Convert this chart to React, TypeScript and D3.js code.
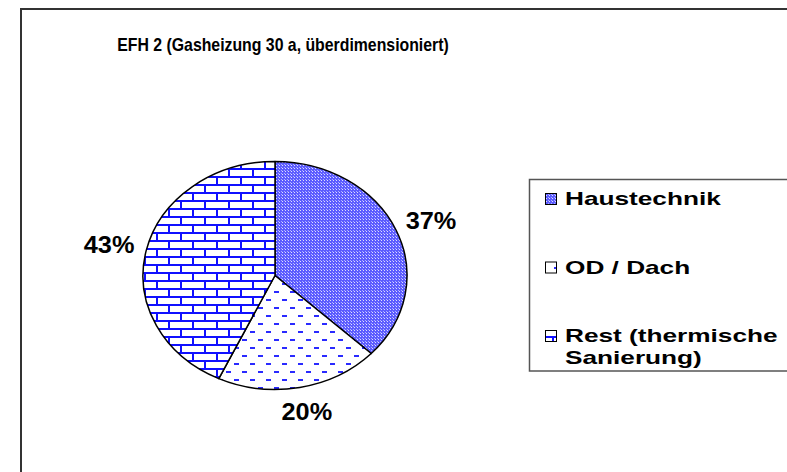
import React from 'react';
import * as d3 from 'd3';

const title = 'EFH 2 (Gasheizung 30 a, überdimensioniert)';
const categories = ['Haustechnik', 'OD / Dach', 'Rest (thermische Sanierung)'];
const shares = [37, 20, 43];
const legendLines = [['Haustechnik'], ['OD / Dach'], ['Rest (thermische', 'Sanierung)']];
const patternIds = ['pat-checker', 'pat-dash', 'pat-brick'];

const W = 787;
const H = 472;
const cx = 275;
const cy = 275.5;
const rx = 132;
const ry = 114;

// elliptical slice path (the original chart is stretched horizontally)
function slicePath(a0: number, a1: number) {
  const x0 = cx + rx * Math.sin(a0);
  const y0 = cy - ry * Math.cos(a0);
  const x1 = cx + rx * Math.sin(a1);
  const y1 = cy - ry * Math.cos(a1);
  const large = a1 - a0 > Math.PI ? 1 : 0;
  return `M${cx},${cy}L${x0},${y0}A${rx},${ry} 0 ${large} 1 ${x1},${y1}Z`;
}

export default function App() {
  const pie = d3.pie<number>().value(d => d).sort(null);
  const arcs = pie(shares);
  const pct = d3.format('.0%');
  const total = d3.sum(shares);

  // label offsets outside the ellipse
  const offX = 38;
  const offY = 25;

  return (
    <svg width={W} height={H} style={{ position: 'absolute', left: 0, top: 0, background: '#fff' }}
      fontFamily="'Liberation Sans', Arial, sans-serif">
      <defs>
        <pattern id="pat-checker" patternUnits="userSpaceOnUse" width={3} height={3}>
          <rect width={3} height={3} fill="#5c5cff" shapeRendering="crispEdges" />
          <rect width={1} height={1} fill="#ffffff" fillOpacity={0.8} shapeRendering="crispEdges" />
          <rect x={1.5} y={1.5} width={1} height={1} fill="#ffffff" fillOpacity={0.5} shapeRendering="crispEdges" />
        </pattern>
        <pattern id="pat-dash" patternUnits="userSpaceOnUse" width={16} height={16}>
          <rect width={16} height={16} fill="#fff" />
          <rect x={2} y={3} width={5} height={2} fill="#2a2aff" shapeRendering="crispEdges" />
          <rect x={10} y={11} width={5} height={2} fill="#2a2aff" shapeRendering="crispEdges" />
        </pattern>
        <pattern id="pat-brick" patternUnits="userSpaceOnUse" width={24} height={16}>
          <rect width={24} height={16} fill="#fff" />
          <g fill="#1010ff" shapeRendering="crispEdges">
            <rect x={0} y={0} width={24} height={2} />
            <rect x={0} y={8} width={24} height={2} />
            <rect x={0} y={0} width={2} height={8} />
            <rect x={12} y={8} width={2} height={8} />
          </g>
        </pattern>
      </defs>

      <rect x={21} y={9} width={W} height={H} fill="none" stroke="#333" strokeWidth={2} />

      <text transform="translate(283,51) scale(0.88,1)" textAnchor="middle" fontWeight="bold"
        fontSize={18}>{title}</text>

      {arcs.map((a, i) => (
        <path key={categories[i]} d={slicePath(a.startAngle, a.endAngle)}
          fill={`url(#${patternIds[i]})`} stroke="#000" strokeWidth={1.5} strokeLinejoin="round" />
      ))}

      {arcs.map((a, i) => {
        const m = (a.startAngle + a.endAngle) / 2;
        const x = cx + (rx + offX) * Math.sin(m);
        const y = cy - (ry + offY) * Math.cos(m);
        return (
          <text key={'l' + i} transform={`translate(${x},${y + 8.3}) scale(1.1,1)`} textAnchor="middle"
            fontWeight="bold" fontSize={23}>{pct(a.data / total)}</text>
        );
      })}

      <rect x={529.5} y={179.5} width={W} height={191.5} fill="#fff" stroke="#555" strokeWidth={1.5} />
      {legendLines.map((lines, i) => {
        const by = 205 + i * 68.5;
        return (
          <g key={'lg' + i}>
            <rect x={545.5} y={by - 11.5} width={11} height={11} fill={`url(#${patternIds[i]})`}
              stroke="#000" strokeWidth={1} />
            {lines.map((t, j) => (
              <text key={j} transform={`translate(565,${by + j * 22}) scale(1.38,1)`}
                fontWeight="bold" fontSize={19}>{t}</text>
            ))}
          </g>
        );
      })}
    </svg>
  );
}
